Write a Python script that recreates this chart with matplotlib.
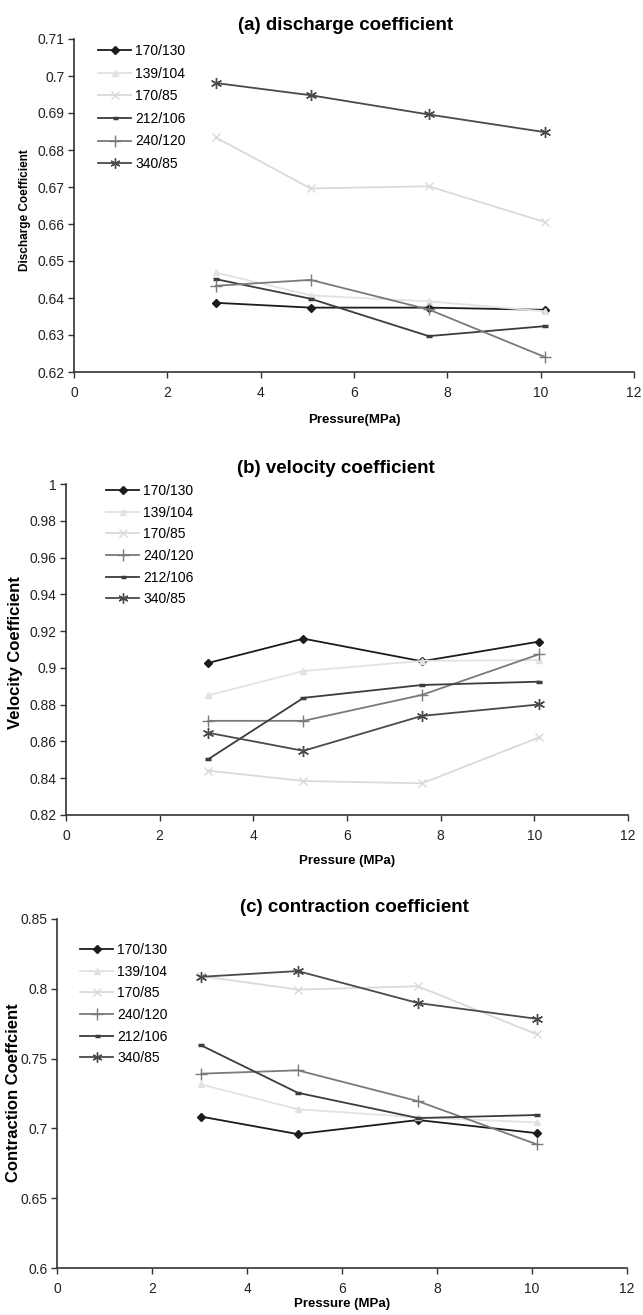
import matplotlib
matplotlib.use("Agg")
import matplotlib.pyplot as plt
from matplotlib.ticker import FuncFormatter, MultipleLocator

plt.rcParams['font.family'] = ['Liberation Sans Narrow', 'Liberation Sans', 'DejaVu Sans']

# ---------------- data ----------------
pressure = [3.04, 5.07, 7.6, 10.1]

discharge = {
    "170/130": [0.6387, 0.6374, 0.6374, 0.6368],
    "139/104": [0.6469, 0.6407, 0.6391, 0.6364],
    "170/85":  [0.6834, 0.6696, 0.6702, 0.6605],
    "212/106": [0.6451, 0.6398, 0.6297, 0.6324],
    "240/120": [0.6433, 0.6449, 0.6369, 0.6240],
    "340/85":  [0.6981, 0.6948, 0.6896, 0.6848],
}
velocity = {
    "170/130": [0.9027, 0.9159, 0.9036, 0.9143],
    "139/104": [0.8851, 0.8983, 0.9038, 0.9043],
    "170/85":  [0.8441, 0.8385, 0.8372, 0.8622],
    "240/120": [0.8712, 0.8712, 0.8853, 0.9074],
    "212/106": [0.8504, 0.8837, 0.8907, 0.8925],
    "340/85":  [0.8647, 0.8549, 0.8739, 0.8801],
}
contraction = {
    "170/130": [0.7084, 0.6959, 0.7060, 0.6966],
    "139/104": [0.7315, 0.7137, 0.7079, 0.7043],
    "170/85":  [0.8091, 0.7994, 0.8018, 0.7674],
    "240/120": [0.7392, 0.7416, 0.7195, 0.6886],
    "212/106": [0.7594, 0.7255, 0.7074, 0.7096],
    "340/85":  [0.8086, 0.8127, 0.7898, 0.7785],
}

titles = ["(a) discharge coefficient", "(b) velocity coefficient", "(c) contraction coefficient"]
ylabels = ["Discharge Coefficient", "Velocity Coefficient", "Contraction Coeffcient"]
xlabels = ["Pressure(MPa)", "Pressure (MPa)", "Pressure (MPa)"]
ylims = [(0.62, 0.71), (0.82, 1.0), (0.6, 0.85)]
ysteps = [0.01, 0.02, 0.05]

styles = {
    "170/130": dict(color="#1c1c1c", marker="D", ms=4.5, mfc="#1c1c1c", mec="#1c1c1c"),
    "139/104": dict(color="#e2e2e2", marker="^", ms=5, mfc="#e2e2e2", mec="#e2e2e2"),
    "170/85":  dict(color="#dadada", marker="x", ms=6, mew=1.0),
    "212/106": dict(color="#3c3c3c", marker="_", ms=4, mew=2.5),
    "240/120": dict(color="#7a7a7a", marker="+", ms=9, mew=1.0),
    "340/85":  dict(color="#4a4a4a", marker=(6, 2, 0), ms=8, mew=1.0),
}

W, H = 643, 1315
fig = plt.figure(figsize=(W / 100, H / 100), dpi=100)

# pixel boxes: left, right, top, bottom
boxes = [(74, 634, 39, 372), (66, 628, 484, 815), (57, 627, 919, 1268)]
title_pos = [(346, 25), (336, 468), (354, 907)]
xlabel_y = [420, 861, 1304]
ylabel_pos = [(25, 210, 8.5), (16, 653, 12), (14, 1093, 12)]
legend_pos = [(98, 44), (106, 484), (80, 943)]
legend_spacing = [0.62, 0.55, 0.55]

datasets = [discharge, velocity, contraction]

for i, data in enumerate(datasets):
    l, r, t, b = boxes[i]
    ax = fig.add_axes([l / W, 1 - b / H, (r - l) / W, (b - t) / H])
    for name, vals in data.items():
        ax.plot(pressure, vals, label=name, lw=1.3, **styles[name])
    ax.set_xlim(0, 12)
    ax.set_ylim(*ylims[i])
    ax.xaxis.set_major_locator(MultipleLocator(2))
    ax.yaxis.set_major_locator(MultipleLocator(ysteps[i]))
    ax.yaxis.set_major_formatter(FuncFormatter(lambda v, p: "%g" % round(v, 4)))
    for s in ["top", "right"]:
        ax.spines[s].set_visible(False)
    for s in ["left", "bottom"]:
        ax.spines[s].set_color("#333333")
        ax.spines[s].set_linewidth(1.2)
    ax.tick_params(direction="out", length=4, width=1.0, color="#333333",
                   labelsize=10, labelcolor="#222222", pad=3)
    ax.tick_params(axis="x", pad=6)
    ax.patch.set_alpha(0)

    tx, ty = title_pos[i]
    fig.text(tx / W, 1 - ty / H, titles[i], ha="center", va="center",
             fontsize=13.5, fontweight="bold", family=["Liberation Sans", "DejaVu Sans"])
    fig.text((l + r) / 2 / W, 1 - xlabel_y[i] / H, xlabels[i], ha="center", va="center",
             fontsize=9.5, fontweight="bold")
    yx, yy, yfs = ylabel_pos[i]
    fig.text(yx / W, 1 - yy / H, ylabels[i], ha="center", va="center", rotation=90,
             fontsize=yfs, fontweight="bold", family=["Liberation Sans", "DejaVu Sans"])

    lx, ly = legend_pos[i]
    ax.legend(loc="upper left", bbox_to_anchor=(lx / W, 1 - ly / H),
              bbox_transform=fig.transFigure, frameon=False, fontsize=10,
              handlelength=2.4, handletextpad=0.3, labelspacing=legend_spacing[i],
              borderpad=0, borderaxespad=0, markerscale=0.9)

fig.savefig("out.png", dpi=100, facecolor="white")
